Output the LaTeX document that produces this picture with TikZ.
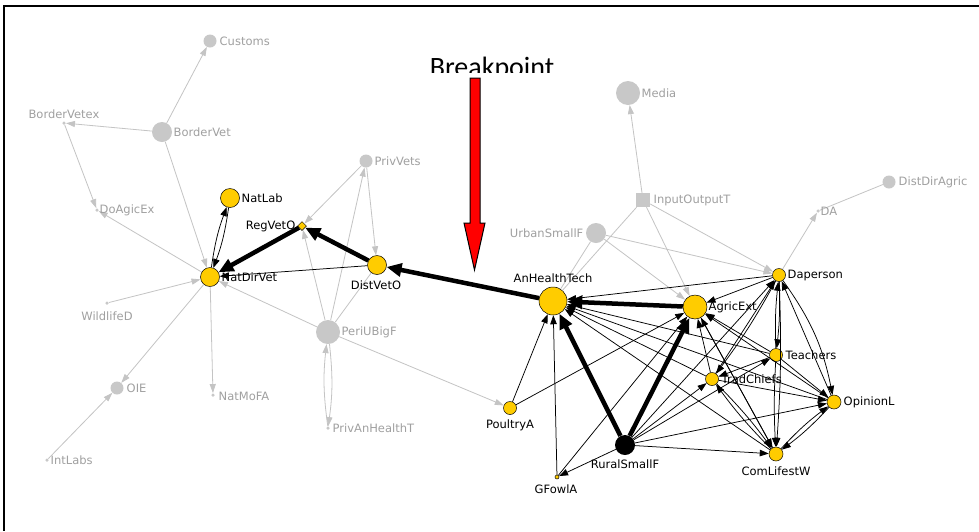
\documentclass[tikz,border=0pt]{standalone}
\usepackage{fontspec}
\usetikzlibrary{arrows.meta,shapes.geometric}
\newfontfamily\lblfam{DejaVu Sans}
\newfontfamily\bpfam{Carlito}
\definecolor{ylw}{RGB}{255,204,0}
\definecolor{gnode}{RGB}{200,200,200}
\definecolor{gedge}{RGB}{196,196,196}
\definecolor{gtext}{RGB}{160,160,160}
\begin{document}
\begin{tikzpicture}[x=1pt,y=-1pt,
  yel/.style={circle,draw=black,line width=0.5pt,fill=ylw,inner sep=0pt,minimum size=#1},
  gry/.style={circle,fill=gnode,inner sep=0pt,minimum size=#1},
  gdot/.style={circle,fill=gnode,inner sep=0pt,minimum size=3.5pt},
  gsq/.style={rectangle,fill=gnode,inner sep=0pt,minimum size=14pt},
  lbl/.style={font=\lblfam\fontsize{11.5}{13}\selectfont,text=black,inner sep=0.5pt},
  glbl/.style={lbl,text=gtext},
  ge/.style={draw=gedge,line width=0.8pt,-{Triangle[length=9pt,width=6pt]}},
  gl/.style={draw=gedge,line width=0.8pt},
  be/.style={draw=black,line width=0.75pt,-{Triangle[length=9pt,width=6.5pt]}},
  tk/.style={draw=black,line width=4.5pt,-{Triangle[length=15pt,width=13pt]}}]
\useasboundingbox (0,0) rectangle (979,531);
\fill[white] (0,0) rectangle (979,531);
% frame
\draw[line width=2pt] (979,6) -- (4,6) -- (4,531);

% ---------- nodes (gray)
\node[gry=13pt] (Customs) at (210,41) {};
\node[gry=20pt] (BorderVet) at (162,132) {};
\node[gdot] (BorderVetex) at (64,123) {};
\node[gdot] (DoAgicEx) at (97,210) {};
\node[gdot] (WildlifeD) at (107,303) {};
\node[gry=13pt] (OIE) at (117,388) {};
\node[gdot] (NatMoFA) at (213,395) {};
\node[gdot] (IntLabs) at (47,460) {};
\node[gry=13pt] (PrivVets) at (366,161) {};
\node[gry=24pt] (PeriUBigF) at (328,332) {};
\node[gdot] (PrivAnHealthT) at (328,428) {};
\node[gry=20pt] (UrbanSmallF) at (596,233) {};
\node[gry=24pt] (Media) at (628,93) {};
\node[gsq] (InputOutputT) at (643,200) {};
\node[gdot] (DA) at (818,211) {};
\node[gry=13pt] (DistDirAgric) at (889,182) {};

% ---------- nodes (coloured)
\node[yel=19pt] (NatLab) at (230,198) {};
\node[yel=19pt] (NatDirVet) at (210,277) {};
\node[diamond,draw=black,line width=0.5pt,fill=ylw,inner sep=0pt,minimum size=9pt] (RegVetO) at (302,226) {};
\node[yel=19pt] (DistVetO) at (377,265) {};
\node[yel=28pt] (AnHealthTech) at (553,301) {};
\node[yel=13pt] (PoultryA) at (510,408) {};
\node[yel=4pt] (GFowlA) at (557,477) {};
\node[yel=24pt] (AgricExt) at (695,307) {};
\node[yel=13pt] (Daperson) at (779,275) {};
\node[yel=13pt] (Teachers) at (776,355) {};
\node[yel=13pt] (TradChiefs) at (712,379) {};
\node[yel=14pt] (OpinionL) at (834,402) {};
\node[yel=14pt] (ComLifestW) at (776,454) {};
\node[circle,fill=black,inner sep=0pt,minimum size=20pt] (RuralSmallF) at (625,445) {};

% ---------- gray edges
\draw[ge] (BorderVet) -- (Customs);
\draw[ge] (BorderVet) -- (BorderVetex);
\draw[ge] (BorderVetex) -- (DoAgicEx);
\draw[ge] (BorderVet) -- (NatDirVet);
\draw[ge] (NatDirVet) -- (DoAgicEx);
\draw[ge] (WildlifeD) -- (NatDirVet);
\draw[ge] (NatDirVet) -- (OIE);
\draw[ge] (IntLabs) -- (OIE);
\draw[ge] (NatDirVet) -- (NatMoFA);
\draw[ge] (PeriUBigF) -- (NatDirVet);
\draw[ge] (PrivVets) -- (RegVetO);
\draw[ge] (PeriUBigF) -- (PrivVets);
\draw[ge] (PrivVets) -- (DistVetO);
\draw[ge] (PeriUBigF) -- (RegVetO);
\draw[gl] (PeriUBigF) -- (DistVetO);
\draw[ge] (PeriUBigF) to[bend left=7] (PrivAnHealthT);
\draw[ge] (PrivAnHealthT) to[bend left=7] (PeriUBigF);
\draw[ge] (PeriUBigF) -- (PoultryA);
\draw[ge] (InputOutputT) -- (Media);
\draw[ge] (InputOutputT) -- (Daperson);
\draw[ge] (InputOutputT) -- (AgricExt);
\draw[gl] (InputOutputT) -- (AnHealthTech);
\draw[ge] (UrbanSmallF) -- (Daperson);
\draw[ge] (UrbanSmallF) -- (AgricExt);
\draw[gl] (UrbanSmallF) -- (AnHealthTech);
\draw[ge] (Daperson) -- (DA);
\draw[gl] (DistDirAgric) -- (DA);

% ---------- black edges
\draw[be] (NatDirVet) to[bend left=6] (NatLab);
\draw[be] (NatLab) to[bend left=6] (NatDirVet);
\draw[be] (DistVetO) -- (NatDirVet);
\draw[tk] (RegVetO) -- (NatDirVet);
\draw[tk] (DistVetO) -- (RegVetO);
\draw[tk] (AnHealthTech) -- (DistVetO);
\draw[be] (PoultryA) -- (AnHealthTech);
\draw[be] (GFowlA) -- (AnHealthTech);
\draw[be] (RuralSmallF) -- (GFowlA);
\draw[be] (PoultryA) -- (AgricExt);
\draw[be] (GFowlA) -- (AgricExt);
\draw[be] (Daperson) -- (AnHealthTech);
\draw[be] (Teachers) -- (AnHealthTech);
\draw[be] (TradChiefs) -- (AnHealthTech);
\draw[be] (OpinionL) -- (AnHealthTech);
\draw[be] (ComLifestW) -- (AnHealthTech);
\draw[be] (Daperson) -- (AgricExt);
\draw[be] (Teachers) -- (AgricExt);
\draw[be] (TradChiefs) -- (AgricExt);
\draw[be] (OpinionL) -- (AgricExt);
\draw[be] (ComLifestW) -- (AgricExt);
\draw[be] (RuralSmallF) -- (TradChiefs);
\draw[be] (RuralSmallF) -- (Teachers);
\draw[be] (RuralSmallF) -- (Daperson);
\draw[be] (RuralSmallF) -- (OpinionL);
\draw[be] (RuralSmallF) -- (ComLifestW);
\draw[be] (Daperson) to[bend left=4] (Teachers);
\draw[be] (Teachers) to[bend left=4] (Daperson);
\draw[be] (Teachers) to[bend right=3] (ComLifestW);
\draw[be] (Daperson) to[bend left=3] (ComLifestW);
\draw[be] (Daperson) to[bend left=12] (OpinionL);
\draw[be] (OpinionL) -- (Daperson);
\draw[be] (TradChiefs) -- (Daperson);
\draw[be] (Daperson) to[bend left=4] (TradChiefs);
\draw[be] (Teachers) -- (TradChiefs);
\draw[be] (Teachers) -- (OpinionL);
\draw[be] (TradChiefs) -- (OpinionL);
\draw[be] (TradChiefs) to[bend left=4] (ComLifestW);
\draw[be] (ComLifestW) to[bend left=4] (TradChiefs);
\draw[be] (OpinionL) to[bend left=5] (ComLifestW);
\draw[be] (ComLifestW) to[bend left=5] (OpinionL);
\draw[be] (AgricExt) -- (ComLifestW);
\draw[tk] (AgricExt) -- (AnHealthTech);
\draw[tk] (RuralSmallF) -- (AnHealthTech);
\draw[tk] (RuralSmallF) -- (AgricExt);

% ---------- labels
\node[glbl,anchor=west] (lCustoms) at (219,41) {Customs};
\node[glbl,anchor=west] (lBorderVet) at (173,132) {BorderVet};
\node[glbl] (lBorderVetex) at (64,114) {BorderVetex};
\node[glbl,anchor=west] (lDoAgicEx) at (99,210) {DoAgicEx};
\node[glbl] (lWildlifeD) at (107,316) {WildlifeD};
\node[glbl,anchor=west] (lOIE) at (126,388) {OIE};
\node[glbl,anchor=west] (lNatMoFA) at (218,396) {NatMoFA};
\node[glbl,anchor=west] (lIntLabs) at (50,460) {IntLabs};
\node[glbl,anchor=west] (lPrivVets) at (374,161) {PrivVets};
\node[glbl,anchor=west] (lPeriUBigF) at (341,332) {PeriUBigF};
\node[glbl,anchor=west] (lPrivAnHealthT) at (332,428) {PrivAnHealthT};
\node[glbl,anchor=east] (lUrbanSmallF) at (584,233) {UrbanSmallF};
\node[glbl,anchor=west] (lMedia) at (641,93) {Media};
\node[glbl,anchor=west] (lInputOutputT) at (653,200) {InputOutputT};
\node[glbl,anchor=west] (lDA) at (820,211) {DA};
\node[glbl,anchor=west] (lDistDirAgric) at (898,182) {DistDirAgric};
\node[lbl,anchor=west] (lNatLab) at (241,198) {NatLab};
\node[lbl,anchor=east] (lRegVetO) at (296,226) {RegVetO};
\node[lbl,anchor=west] (lNatDirVet) at (221,277) {NatDirVet};
\node[lbl] (lDistVetO) at (376,285) {DistVetO};
\node[lbl] (lAnHealthTech) at (553,278) {AnHealthTech};
\node[lbl] (lPoultryA) at (510,425) {PoultryA};
\node[lbl] (lGFowlA) at (556,489) {GFowlA};
\node[lbl] (lRuralSmallF) at (625,464) {RuralSmallF};
\node[lbl,anchor=west] (lAgricExt) at (708,307) {AgricExt};
\node[lbl,anchor=west] (lDaperson) at (787,275) {Daperson};
\node[lbl,anchor=west] (lTeachers) at (785,355) {Teachers};
\node[lbl,anchor=west] (lTradChiefs) at (721,379) {TradChiefs};
\node[lbl,anchor=west] (lOpinionL) at (843,402) {OpinionL};
\node[lbl] (lComLifestW) at (776,471) {ComLifestW};

% ---------- breakpoint
\begin{scope}
\clip (400,40) rectangle (600,72.5);
\node[font=\bpfam\fontsize{28}{30}\selectfont,anchor=base,inner sep=0pt] (bp) at (492,76) {Breakpoint};
\end{scope}
\draw[fill=red,draw=black,line width=1pt] (470,78) -- (480,78) -- (480,223) -- (485,223) -- (474.5,270) -- (464,223) -- (470,223) -- cycle;
\end{tikzpicture}
\end{document}
